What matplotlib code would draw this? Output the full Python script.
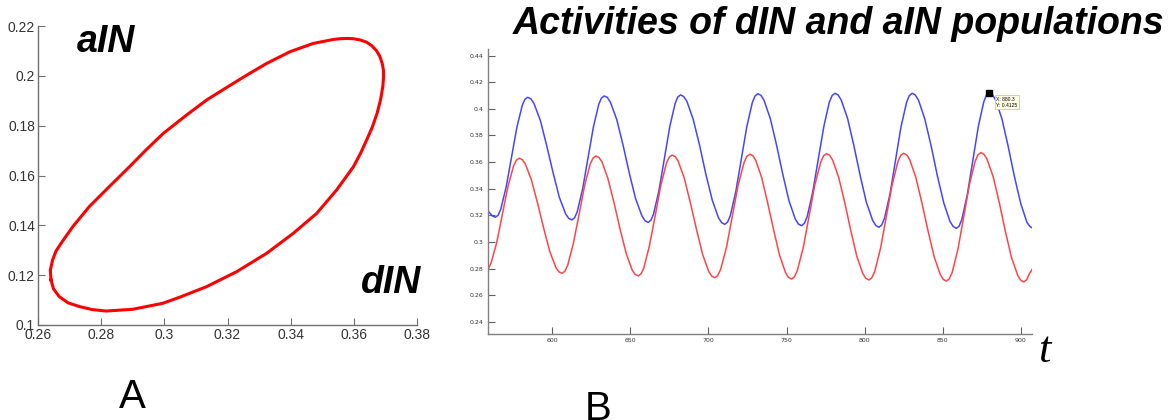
import matplotlib
matplotlib.use("Agg")
import matplotlib.pyplot as plt

# ---- data ----
# panel A: phase loop (dIN on x, aIN on y)
loop_dIN = [0.2642, 0.2640, 0.2647, 0.2658, 0.2674, 0.2711, 0.2763, 0.2826,
            0.2890, 0.2942, 0.2997, 0.3071, 0.3134, 0.3197, 0.3261, 0.3324,
            0.3398, 0.3471, 0.3535, 0.3556, 0.3577, 0.3598, 0.3619, 0.3640,
            0.3656, 0.3671, 0.3682, 0.3689, 0.3693, 0.3693, 0.3691, 0.3684,
            0.3673, 0.3658, 0.3640, 0.3621, 0.3598, 0.3545, 0.3482, 0.3408,
            0.3324, 0.3229, 0.3134, 0.3050, 0.2995, 0.2900, 0.2816, 0.2772,
            0.2732, 0.2696, 0.2668, 0.2650, 0.2642]
loop_aIN = [0.1181, 0.1220, 0.1261, 0.1297, 0.1328, 0.1395, 0.1475, 0.1555,
            0.1635, 0.1702, 0.1769, 0.1843, 0.1903, 0.1953, 0.2003, 0.2050,
            0.2097, 0.2130, 0.2146, 0.2149, 0.2150, 0.2149, 0.2144, 0.2135,
            0.2121, 0.2101, 0.2077, 0.2050, 0.2023, 0.1990, 0.1957, 0.1905,
            0.1850, 0.1795, 0.1743, 0.1690, 0.1635, 0.1542, 0.1448, 0.1368,
            0.1288, 0.1214, 0.1154, 0.1112, 0.1087, 0.1063, 0.1056, 0.1062,
            0.1074, 0.1089, 0.1114, 0.1145, 0.1181]

# panel B: time series (blue and red populations)
t_blue = [558.6, 561.5,
          563.5, 565.25, 566.95, 570.4, 573.85, 577.3, 580.75, 582.45, 584.2,
          586.2, 588.2, 592.3, 596.3, 600.4, 604.4, 608.5, 610.5, 612.5,
          614.25, 615.95, 619.4, 622.85, 626.3, 629.75, 631.45, 633.2,
          635.2, 637.2, 641.3, 645.3, 649.3, 653.3, 657.4, 659.4, 661.4,
          663.15, 664.85, 668.3, 671.75, 675.2, 678.65, 680.35, 682.1,
          684.1, 686.2, 690.2, 694.3, 698.3, 702.4, 706.4, 708.5, 710.5,
          712.25, 714.0, 717.5, 721.05, 724.6, 728.1, 729.85, 731.6,
          733.6, 735.6, 739.6, 743.6, 747.6, 751.6, 755.6, 757.6, 759.6,
          761.4, 763.2, 766.7, 770.3, 773.9, 777.4, 779.2, 781.0,
          783.0, 785.0, 789.1, 793.1, 797.1, 801.1, 805.2, 807.2, 809.2,
          810.95, 812.7, 816.3, 819.8, 823.3, 826.9, 828.65, 830.4,
          832.4, 834.5, 838.5, 842.6, 846.6, 850.7, 854.7, 856.8, 858.8,
          860.55, 862.3, 865.8, 869.3, 872.8, 876.3, 878.05, 879.8,
          881.8, 883.8, 887.9, 891.9, 895.9, 900.0, 904.0, 906.0, 907.4]
blue_vals = [0.3235, 0.3196,
             0.3185, 0.3200, 0.3245, 0.3411, 0.3636, 0.3862, 0.4027, 0.4072, 0.4087,
             0.4076, 0.4041, 0.3914, 0.3728, 0.3524, 0.3338, 0.3211, 0.3177, 0.3165,
             0.3181, 0.3227, 0.3398, 0.3631, 0.3864, 0.4035, 0.4081, 0.4097,
             0.4086, 0.4050, 0.3918, 0.3727, 0.3517, 0.3326, 0.3195, 0.3159, 0.3147,
             0.3163, 0.3211, 0.3387, 0.3626, 0.3866, 0.4041, 0.4089, 0.4105,
             0.4093, 0.4056, 0.3922, 0.3727, 0.3510, 0.3315, 0.3181, 0.3144, 0.3132,
             0.3149, 0.3198, 0.3378, 0.3623, 0.3869, 0.4048, 0.4097, 0.4114,
             0.4102, 0.4064, 0.3927, 0.3728, 0.3508, 0.3308, 0.3172, 0.3134, 0.3122,
             0.3139, 0.3189, 0.3371, 0.3620, 0.3868, 0.4050, 0.4100, 0.4117,
             0.4105, 0.4067, 0.3928, 0.3725, 0.3502, 0.3299, 0.3160, 0.3123, 0.3110,
             0.3127, 0.3177, 0.3362, 0.3614, 0.3865, 0.4050, 0.4100, 0.4117,
             0.4105, 0.4066, 0.3926, 0.3722, 0.3497, 0.3293, 0.3153, 0.3115, 0.3102,
             0.3119, 0.3170, 0.3357, 0.3611, 0.3866, 0.4052, 0.4104, 0.4122,
             0.4108, 0.4069, 0.3927, 0.3721, 0.3494, 0.3288, 0.3146, 0.3115, 0.3105]

t_red = [557.2, 559.0, 560.8, 564.4, 568.0, 571.6, 575.2, 577.0, 578.8,
         580.8, 582.7, 586.6, 590.5, 594.5, 598.4, 602.3, 604.2, 606.2,
         608.0, 609.8, 613.4, 617.1, 620.7, 624.3, 626.1, 627.9,
         629.9, 631.8, 635.6, 639.5, 643.4, 647.3, 651.1, 653.0, 655.0,
         656.8, 658.6, 662.2, 665.9, 669.5, 673.1, 674.9, 676.7,
         678.7, 680.6, 684.5, 688.4, 692.4, 696.3, 700.2, 702.1, 704.1,
         705.9, 707.8, 711.6, 715.3, 719.0, 722.8, 724.6, 726.5,
         728.5, 730.3, 734.1, 737.9, 741.8, 745.6, 749.4, 751.2, 753.2,
         755.0, 756.9, 760.7, 764.4, 768.1, 771.9, 773.7, 775.6,
         777.6, 779.5, 783.4, 787.3, 791.2, 795.0, 798.9, 800.8, 802.8,
         804.6, 806.5, 810.2, 813.9, 817.6, 821.3, 823.1, 825.0,
         827.0, 828.9, 832.8, 836.7, 840.7, 844.6, 848.5, 850.4, 852.4,
         854.2, 856.1, 859.8, 863.5, 867.1, 870.8, 872.6, 874.5,
         876.5, 878.4, 882.4, 886.3, 890.2, 894.1, 898.1, 900.0, 902.0,
         903.8, 905.7, 907.4]
red_vals = [0.2785, 0.2799, 0.2842, 0.2996, 0.3207, 0.3418, 0.3572, 0.3615, 0.3629,
            0.3618, 0.3586, 0.3466, 0.3293, 0.3101, 0.2927, 0.2807, 0.2775, 0.2764,
            0.2779, 0.2823, 0.2985, 0.3205, 0.3426, 0.3587, 0.3631, 0.3646,
            0.3634, 0.3601, 0.3476, 0.3295, 0.3095, 0.2914, 0.2789, 0.2756, 0.2744,
            0.2759, 0.2805, 0.2971, 0.3199, 0.3426, 0.3592, 0.3638, 0.3653,
            0.3641, 0.3607, 0.3480, 0.3294, 0.3090, 0.2904, 0.2777, 0.2743, 0.2731,
            0.2747, 0.2793, 0.2963, 0.3195, 0.3427, 0.3597, 0.3643, 0.3659,
            0.3647, 0.3612, 0.3483, 0.3294, 0.3086, 0.2897, 0.2768, 0.2733, 0.2721,
            0.2737, 0.2784, 0.2957, 0.3192, 0.3428, 0.3600, 0.3647, 0.3663,
            0.3651, 0.3616, 0.3485, 0.3294, 0.3083, 0.2892, 0.2761, 0.2726, 0.2714,
            0.2730, 0.2778, 0.2952, 0.3190, 0.3428, 0.3602, 0.3650, 0.3666,
            0.3654, 0.3618, 0.3486, 0.3293, 0.3079, 0.2886, 0.2754, 0.2718, 0.2706,
            0.2722, 0.2771, 0.2947, 0.3189, 0.3430, 0.3606, 0.3655, 0.3671,
            0.3658, 0.3622, 0.3488, 0.3293, 0.3077, 0.2882, 0.2748, 0.2712, 0.2699,
            0.2716, 0.2764, 0.2795]

# data tip
tip_t, tip_v = 879.8, 0.4122
tip_label = "X: 880.3\nY: 0.4125"

# ticks
a_xticks = [0.26, 0.28, 0.30, 0.32, 0.34, 0.36, 0.38]
a_xlabels = ["0.26", "0.28", "0.3", "0.32", "0.34", "0.36", "0.38"]
a_yticks = [0.10, 0.12, 0.14, 0.16, 0.18, 0.20, 0.22]
a_ylabels = ["0.1", "0.12", "0.14", "0.16", "0.18", "0.2", "0.22"]
b_xticks = [600, 650, 700, 750, 800, 850, 900]
b_yticks = [0.24, 0.26, 0.28, 0.30, 0.32, 0.34, 0.36, 0.38, 0.40, 0.42, 0.44]
b_ylabels = ["0.24", "0.26", "0.28", "0.3", "0.32", "0.34", "0.36", "0.38", "0.4", "0.42", "0.44"]

W, H = 1172, 420
fig = plt.figure(figsize=(W / 100, H / 100), dpi=100)
sans = ["Liberation Sans", "DejaVu Sans"]

def px_axes(x0, y0, x1, y1):
    # axes box from pixel corners (top-left origin)
    return fig.add_axes([x0 / W, 1 - y1 / H, (x1 - x0) / W, (y1 - y0) / H])

# ---- panel A ----
axA = px_axes(37.7, 26, 417.3, 325)
axA.plot(loop_dIN, loop_aIN, color="#ff0000", lw=2.2, solid_joinstyle="round")
axA.set_xlim(0.26, 0.38)
axA.set_ylim(0.10, 0.22)
axA.set_xticks(a_xticks)
axA.set_xticklabels(a_xlabels)
axA.set_yticks(a_yticks)
axA.set_yticklabels(a_ylabels)
for s in ["top", "right"]:
    axA.spines[s].set_visible(False)
for s in ["left", "bottom"]:
    axA.spines[s].set_color("#707070")
    axA.spines[s].set_linewidth(1.0)
axA.tick_params(direction="in", length=5, color="#707070", labelsize=10,
                labelcolor="#333333", pad=2)
for lab in axA.get_xticklabels() + axA.get_yticklabels():
    lab.set_family(sans)

# ---- panel B ----
axB = px_axes(487.7, 49, 1032.3, 333.7)
axB.plot(t_blue, blue_vals, color="#4545ff", lw=1.1, solid_joinstyle="round")
axB.plot(t_red, red_vals, color="#ff4545", lw=1.1, solid_joinstyle="round")
axB.set_xlim(558.6, 907.4)
axB.set_ylim(0.231, 0.445)
axB.set_xticks(b_xticks)
axB.set_yticks(b_yticks)
axB.set_yticklabels(b_ylabels)
for s in ["top", "right"]:
    axB.spines[s].set_visible(False)
for s in ["left", "bottom"]:
    axB.spines[s].set_color("#808080")
    axB.spines[s].set_linewidth(1.0)
axB.tick_params(direction="in", length=5, color="#606060", labelsize=4.5,
                labelcolor="#333333", pad=3)
axB.plot([tip_t], [tip_v], marker="s", ms=4, color="black", ls="none")
axB.annotate(tip_label, xy=(tip_t, tip_v), xytext=(5, -10),
             textcoords="offset points", fontsize=3.6, family=sans,
             bbox=dict(boxstyle="square,pad=0.3", fc="#ffffe6", ec="#c8c8b0", lw=0.6))

# ---- texts ----
def px_text(x, y, s, **kw):
    fig.text(x / W, 1 - y / H, s, **kw)

px_text(77, 52, "aIN", fontsize=27, fontweight="bold", fontstyle="italic",
        family=sans, ha="left", va="baseline")
px_text(361, 293, "dIN", fontsize=27, fontweight="bold", fontstyle="italic",
        family=sans, ha="left", va="baseline")
px_text(839, 34, "Activities of dIN and aIN populations", fontsize=27,
        fontweight="bold", fontstyle="italic", family=sans, ha="center", va="baseline")
px_text(119, 408, "A", fontsize=29, family=sans, ha="left", va="baseline")
px_text(585, 420, "B", fontsize=29, family=sans, ha="left", va="baseline")
px_text(1038, 362, "t", fontsize=32, fontstyle="italic",
        family=["Liberation Serif", "DejaVu Serif"], ha="left", va="baseline")

fig.savefig("out.png", dpi=100)
